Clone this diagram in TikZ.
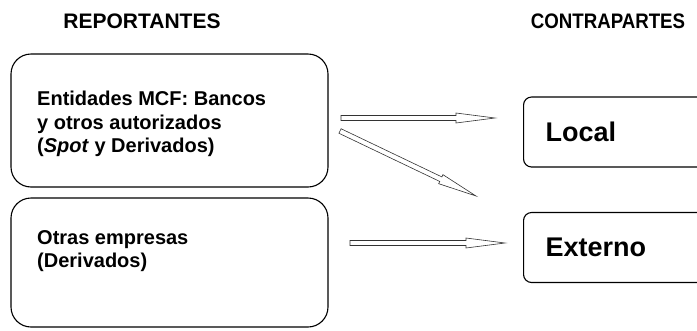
\documentclass[tikz,border=0pt]{standalone}
\usepackage{fontspec}
\setmainfont{Liberation Sans}
\usetikzlibrary{calc,positioning}

% hollow block arrow between two named points
\newcommand{\hollowarrow}[2]{%
\draw[arw] let \p1=($(#2)-(#1)$), \n1={atan2(\y1,\x1)}, \n2={veclen(\x1,\y1)-39pt} in
 (#1) ++(\n1-90:2.5pt) -- ++(\n1:\n2) -- ++(\n1-90:2.5pt) -- (#2)
 -- ($(#1)+(\n1:\n2)+(\n1+90:5pt)$) -- ++(\n1-90:2.5pt) -- ++(\n1+180:\n2) -- cycle;}

\begin{document}
\begin{tikzpicture}[x=1pt,y=-1pt]
\tikzset{rep/.style={draw, line width=1.1pt, rounded corners=20pt, minimum width=317pt, minimum height=133pt}}
\tikzset{cp/.style={draw, line width=1.1pt, rounded corners=8pt, anchor=west, inner xsep=22pt, text width=143pt, align=left, minimum height=70pt, font=\bfseries\fontsize{27}{32}\selectfont}}
\tikzset{txt/.style={anchor=west, inner sep=0pt, align=left, font=\bfseries\fontsize{20}{23.3}\selectfont}}
\tikzset{hd/.style={font=\bfseries\fontsize{21}{25}\selectfont}}
\tikzset{arw/.style={draw=black!80, line width=0.6pt, fill=white, line join=miter}}

\clip (0,0) rectangle (697,330);

\node[hd] (rep) at (142,21) {REPORTANTES};
\node[hd] (cpt) at (608,21) {\scalebox{0.89}[1]{CONTRAPARTES}};

\node[rep] (mcf) at (169.5,120.5) {};
\node[rep, minimum height=129pt] (otr) at (169.5,262.5) {};
\node[txt] (mcft) at (37,124) {Entidades MCF: Bancos\\y otros autorizados\\(\textit{Spot} y Derivados)};
\node[txt] (otrt) at (37,251) {Otras empresas\\(Derivados)};

\node[cp] (loc) at (523,132) {Local};
\node[cp] (ext) at (523,247.5) {Externo};

\coordinate (a1) at (341,118);
\coordinate (b1) at (495,118);
\coordinate (a2) at (340,131);
\coordinate (b2) at (476,196);
\coordinate (a3) at (350,243);
\coordinate (b3) at (505,243);

\hollowarrow{a1}{b1}
\hollowarrow{a2}{b2}
\hollowarrow{a3}{b3}

\end{tikzpicture}
\end{document}
